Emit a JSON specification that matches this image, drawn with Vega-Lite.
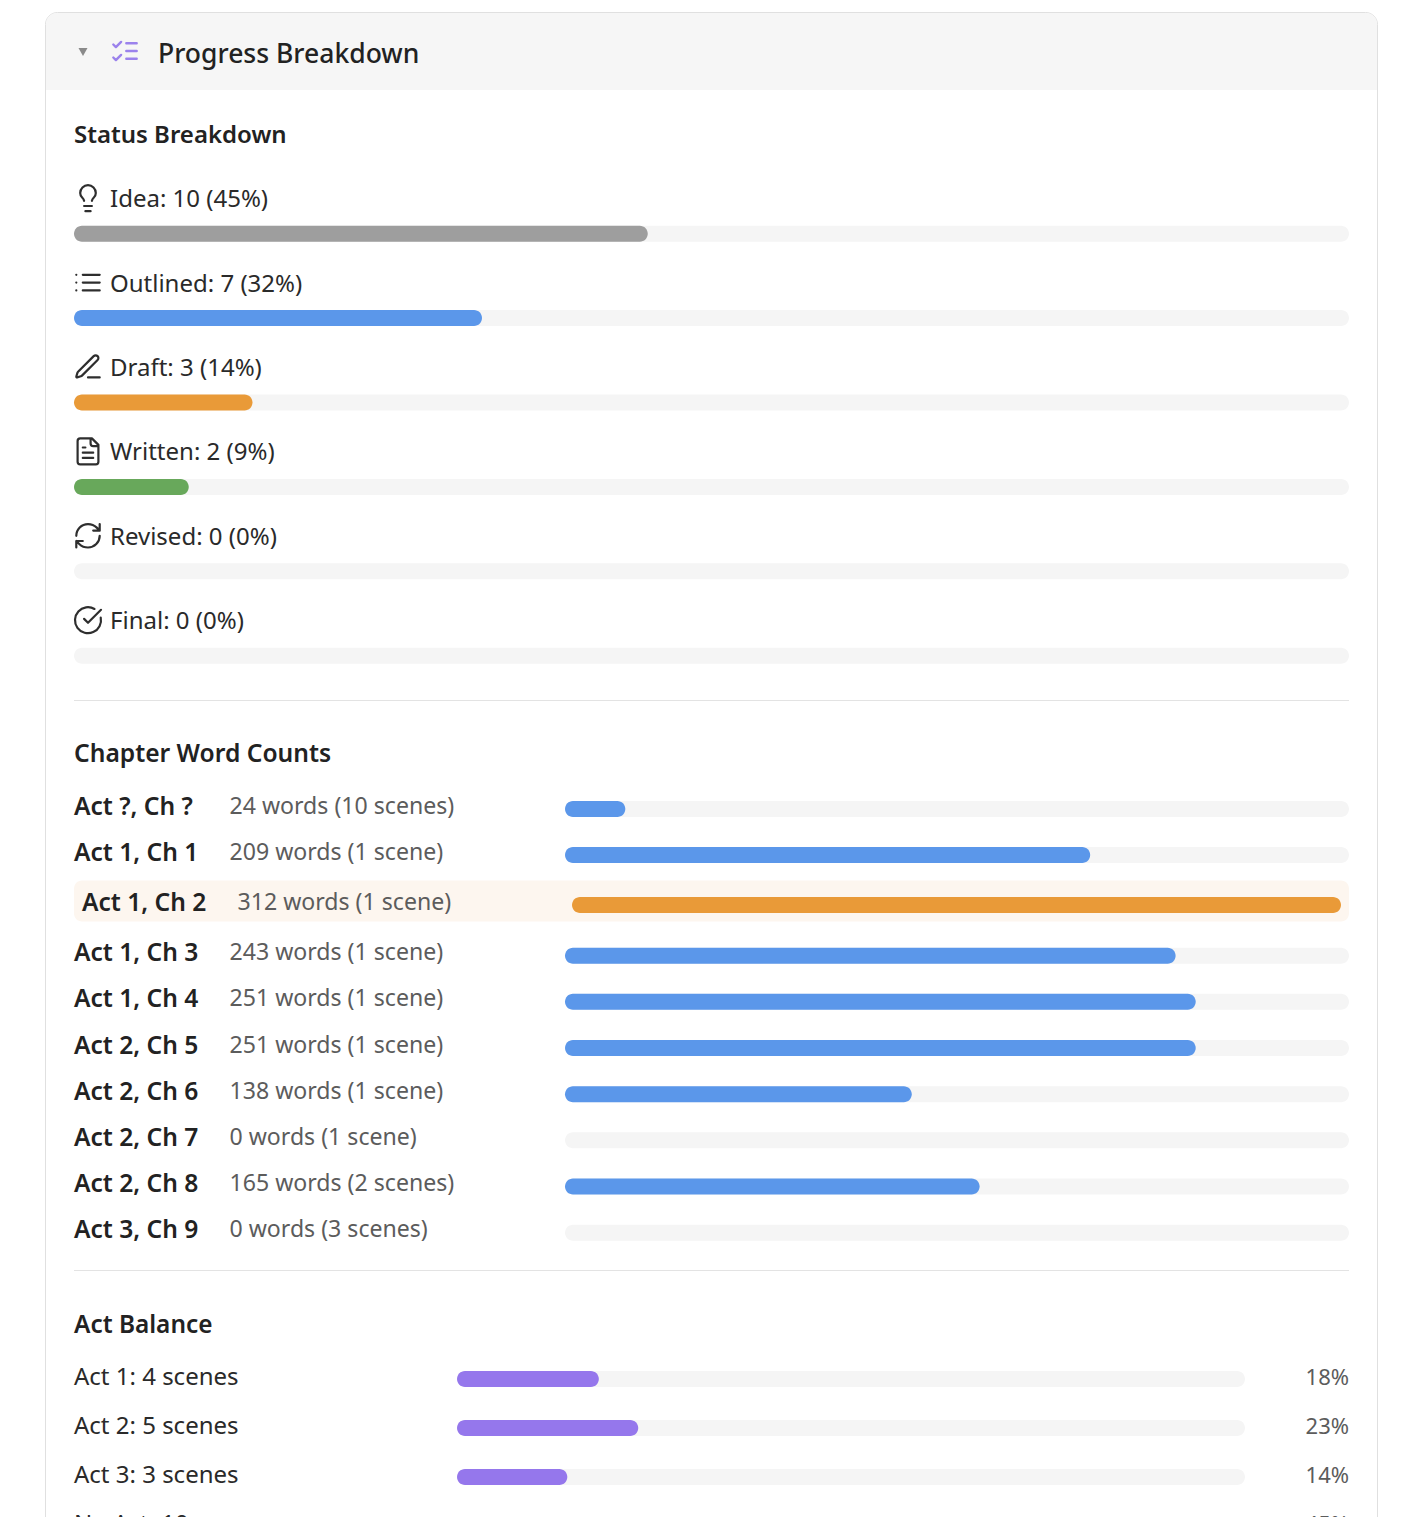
{"$schema":"https://vega.github.io/schema/vega-lite/v6.json","width":1422,"height":1517,"padding":0,"autosize":{"type":"none"},"background":"#ffffff",
"config":{"view":{"stroke":null},"axis":{"disable":true},"legend":{"disable":true},"text":{"font":"Noto Sans","baseline":"middle","align":"left"}},
"datasets":{
"frame":[{"a":0,"b":1,"title":"Progress Breakdown"}],
"status":[
{"status":"Idea","count":10,"pct":45,"start":0,"total":100,"label":"Idea: 10 (45%)"},
{"status":"Outlined","count":7,"pct":32,"start":0,"total":100,"label":"Outlined: 7 (32%)"},
{"status":"Draft","count":3,"pct":14,"start":0,"total":100,"label":"Draft: 3 (14%)"},
{"status":"Written","count":2,"pct":9,"start":0,"total":100,"label":"Written: 2 (9%)"},
{"status":"Revised","count":0,"pct":0,"start":0,"total":100,"label":"Revised: 0 (0%)"},
{"status":"Final","count":0,"pct":0,"start":0,"total":100,"label":"Final: 0 (0%)"}],
"chapters":[
{"chapter":"Act ?, Ch ?","words":24,"start":0,"total":312,"detail":"24 words (10 scenes)"},
{"chapter":"Act 1, Ch 1","words":209,"start":0,"total":312,"detail":"209 words (1 scene)"},
{"chapter":"Act 1, Ch 2","words":312,"start":0,"total":312,"detail":"312 words (1 scene)"},
{"chapter":"Act 1, Ch 3","words":243,"start":0,"total":312,"detail":"243 words (1 scene)"},
{"chapter":"Act 1, Ch 4","words":251,"start":0,"total":312,"detail":"251 words (1 scene)"},
{"chapter":"Act 2, Ch 5","words":251,"start":0,"total":312,"detail":"251 words (1 scene)"},
{"chapter":"Act 2, Ch 6","words":138,"start":0,"total":312,"detail":"138 words (1 scene)"},
{"chapter":"Act 2, Ch 7","words":0,"start":0,"total":312,"detail":"0 words (1 scene)"},
{"chapter":"Act 2, Ch 8","words":165,"start":0,"total":312,"detail":"165 words (2 scenes)"},
{"chapter":"Act 3, Ch 9","words":0,"start":0,"total":312,"detail":"0 words (3 scenes)"}],
"acts":[
{"act":"Act 1: 4 scenes","pct":18,"start":0,"total":100,"share":"18%"},
{"act":"Act 2: 5 scenes","pct":23,"start":0,"total":100,"share":"23%"},
{"act":"Act 3: 3 scenes","pct":14,"start":0,"total":100,"share":"14%"},
{"act":"No Act: 10 scenes","pct":45,"start":0,"total":100,"share":"45%"}]
},
"data":{"name":"frame"},
"resolve":{"scale":{"x":"independent","y":"independent"}},
"layer":[
{"mark":{"type":"rect","fill":"#ffffff","stroke":"#e0e0e0","strokeWidth":1,"cornerRadius":12},
 "encoding":{"x":{"field":"a","type":"quantitative","scale":{"domain":[0,1],"range":[45.5,1377.5]}},"x2":{"field":"b"},"y":{"field":"a","type":"quantitative","scale":{"domain":[0,1],"range":[12.5,1600]}},"y2":{"field":"b"}}},
{"encoding":{"x":{"field":"a","type":"quantitative","scale":{"domain":[0,1],"range":[46,1377]}},"y":{"field":"a","type":"quantitative","scale":{"domain":[0,1],"range":[13,90]}}},
 "layer":[
 {"mark":{"type":"rect","fill":"#f6f6f6","cornerRadiusTopLeft":11,"cornerRadiusTopRight":11},"encoding":{"x2":{"field":"b"},"y2":{"field":"b"}}},
 {"mark":{"type":"point","shape":"triangle-down","filled":true,"fill":"#5c5c5c","stroke":null,"size":81,"xOffset":37,"yOffset":39}},
 {"mark":{"type":"point","shape":"M-9 5l2 2 4-4M-9 -5l2 2 4-4M1 -6h8M1 0h8M1 6h8","filled":false,"stroke":"#9b82ec","strokeWidth":2.4,"strokeCap":"round","strokeJoin":"round","size":6.76,"xOffset":79,"yOffset":38,"opacity":1}},
 {"mark":{"type":"text","fontSize":26.5,"fontWeight":500,"fill":"#222222","xOffset":112,"yOffset":42},"encoding":{"text":{"field":"title"}}}
 ]},
{"data":{"name":"status"},
 "encoding":{"x":{"field":"start","type":"quantitative","scale":{"domain":[0,100],"range":[74,1349]}},
 "y":{"field":"status","type":"ordinal","scale":{"type":"point","padding":0,"domain":["Idea","Outlined","Draft","Written","Revised","Final"],"range":[233.7,655.7]}}},
 "layer":[
 {"mark":{"type":"bar","orient":"horizontal","size":16,"cornerRadius":8,"fill":"#f5f5f5"},"encoding":{"x2":{"field":"total"}}},
 {"mark":{"type":"bar","orient":"horizontal","size":16,"cornerRadius":8},"encoding":{"x2":{"field":"pct"},"color":{"field":"status","type":"nominal","scale":{"domain":["Idea","Outlined","Draft","Written","Revised","Final"],"range":["#9e9e9e","#5b97ea","#e99a38","#68a85b","#9e9e9e","#9e9e9e"]}}}},
 {"mark":{"type":"text","fontSize":24,"fill":"#2a2a2a","xOffset":36,"yOffset":-33.5},"encoding":{"text":{"field":"label"}}},
 {"mark":{"type":"point","filled":false,"stroke":"#2e2e2e","strokeWidth":2.2,"strokeCap":"round","strokeJoin":"round","size":6.76,"opacity":1,"xOffset":14,"yOffset":-35.5},
  "encoding":{"shape":{"field":"status","type":"nominal","scale":{"domain":["Idea","Outlined","Draft","Written","Revised","Final"],"range":[
  "M3 2c.2-1 .7-1.7 1.5-2.5 1-.9 1.5-2.2 1.5-3.5A6 6 0 0 0 -6 -4c0 1 .2 2.2 1.5 3.5.7.7 1.3 1.5 1.5 2.5M-3 6h6M-2 10h4",
  "M-9 0h.01M-9 6h.01M-9 -6h.01M-4 0h13M-4 6h13M-4 -6h13",
  "M0 8h9M4.376 -8.378a1 1 0 0 1 3.002 3.002L-4.632 6.635a2 2 0 0 1-.855.506l-2.872.838a.5.5 0 0 1-.62-.62l.838-2.872a2 2 0 0 1 .506-.854z",
  "M3 -10H-6a2 2 0 0 0-2 2v16a2 2 0 0 0 2 2h12a2 2 0 0 0 2-2V-5ZM2 -10v4a2 2 0 0 0 2 2h4M-2 -3H-4M4 1H-4M4 5H-4",
  "M-9 0a9 9 0 0 1 9-9 9.75 9.75 0 0 1 6.74 2.74L9 -4M9 -9v5h-5M9 0a9 9 0 0 1-9 9 9.75 9.75 0 0 1-6.74-2.74L-9 4M-4 4H-9v5",
  "M9.801 -2A10 10 0 1 1 5 -8.665M-3 -1l3 3L10 -8"]}}}},
 {"transform":[{"filter":"datum.status === 'Idea'"}],"mark":{"type":"text","text":"Status Breakdown","fontSize":24,"fontWeight":600,"fill":"#222222","yOffset":-97.5}},
 {"transform":[{"filter":"datum.status === 'Final'"}],"mark":{"type":"rule","stroke":"#e3e3e3","strokeWidth":1,"yOffset":44.8},"encoding":{"x2":{"field":"total"}}}
 ]},
{"data":{"name":"chapters"},"transform":[{"filter":{"field":"chapter","oneOf":["Act ?, Ch ?","Act 1, Ch 1"]}}],
 "encoding":{"x":{"field":"start","type":"quantitative","scale":{"domain":[0,312],"range":[565,1349]}},
 "y":{"field":"chapter","type":"ordinal","scale":{"type":"point","padding":0,"domain":["Act ?, Ch ?","Act 1, Ch 1"],"range":[809,855]}}},
 "layer":[
 {"mark":{"type":"bar","orient":"horizontal","size":16,"cornerRadius":8,"fill":"#f5f5f5"},"encoding":{"x2":{"field":"total"}}},
 {"mark":{"type":"bar","orient":"horizontal","size":16,"cornerRadius":8,"fill":"#5b97ea"},"encoding":{"x2":{"field":"words"}}},
 {"mark":{"type":"text","fontSize":24.6,"fontWeight":600,"fill":"#222222","xOffset":-491,"yOffset":-1.5},"encoding":{"text":{"field":"chapter"}}},
 {"mark":{"type":"text","fontSize":23.1,"fill":"#5c5c5c","xOffset":-335.5,"yOffset":-2.5},"encoding":{"text":{"field":"detail"}}},
 {"transform":[{"filter":"datum.chapter === 'Act ?, Ch ?'"}],"mark":{"type":"text","text":"Chapter Word Counts","fontSize":24.6,"fontWeight":600,"fill":"#222222","xOffset":-491,"yOffset":-54.5}}
 ]},
{"data":{"name":"chapters"},"transform":[{"filter":{"field":"chapter","oneOf":["Act 1, Ch 2"]}}],
 "encoding":{"x":{"field":"start","type":"quantitative","scale":{"domain":[0,312],"range":[572,1341]}},
 "y":{"field":"chapter","type":"ordinal","scale":{"type":"point","padding":0,"domain":["Act 1, Ch 2"],"range":[905,905]}}},
 "layer":[
 {"mark":{"type":"bar","orient":"horizontal","size":41,"cornerRadius":8,"fill":"#fdf6ef","xOffset":-498,"x2Offset":8,"yOffset":-4},"encoding":{"x2":{"field":"total"}}},
 {"mark":{"type":"bar","orient":"horizontal","size":16,"cornerRadius":8,"fill":"#e99a38"},"encoding":{"x2":{"field":"words"}}},
 {"mark":{"type":"text","fontSize":24.6,"fontWeight":600,"fill":"#222222","xOffset":-490,"yOffset":-1.5},"encoding":{"text":{"field":"chapter"}}},
 {"mark":{"type":"text","fontSize":23.1,"fill":"#5c5c5c","xOffset":-334.5,"yOffset":-2.5},"encoding":{"text":{"field":"detail"}}}
 ]},
{"data":{"name":"chapters"},"transform":[{"filter":{"field":"chapter","oneOf":["Act 1, Ch 3","Act 1, Ch 4","Act 2, Ch 5","Act 2, Ch 6","Act 2, Ch 7","Act 2, Ch 8","Act 3, Ch 9"]}}],
 "encoding":{"x":{"field":"start","type":"quantitative","scale":{"domain":[0,312],"range":[565,1349]}},
 "y":{"field":"chapter","type":"ordinal","scale":{"type":"point","padding":0,"domain":["Act 1, Ch 3","Act 1, Ch 4","Act 2, Ch 5","Act 2, Ch 6","Act 2, Ch 7","Act 2, Ch 8","Act 3, Ch 9"],"range":[955.7,1232.7]}}},
 "layer":[
 {"mark":{"type":"bar","orient":"horizontal","size":16,"cornerRadius":8,"fill":"#f5f5f5"},"encoding":{"x2":{"field":"total"}}},
 {"mark":{"type":"bar","orient":"horizontal","size":16,"cornerRadius":8,"fill":"#5b97ea"},"encoding":{"x2":{"field":"words"}}},
 {"mark":{"type":"text","fontSize":24.6,"fontWeight":600,"fill":"#222222","xOffset":-491,"yOffset":-1.5},"encoding":{"text":{"field":"chapter"}}},
 {"mark":{"type":"text","fontSize":23.1,"fill":"#5c5c5c","xOffset":-335.5,"yOffset":-2.5},"encoding":{"text":{"field":"detail"}}},
 {"transform":[{"filter":"datum.chapter === 'Act 3, Ch 9'"}],"mark":{"type":"rule","stroke":"#e3e3e3","strokeWidth":1,"xOffset":-491,"yOffset":37.8},"encoding":{"x2":{"field":"total"}}}
 ]},
{"data":{"name":"acts"},
 "encoding":{"x":{"field":"start","type":"quantitative","scale":{"domain":[0,100],"range":[457,1245]}},
 "y":{"field":"act","type":"ordinal","scale":{"type":"point","padding":0,"domain":["Act 1: 4 scenes","Act 2: 5 scenes","Act 3: 3 scenes","No Act: 10 scenes"],"range":[1379,1526]}}},
 "layer":[
 {"mark":{"type":"bar","orient":"horizontal","size":16,"cornerRadius":8,"fill":"#f5f5f5"},"encoding":{"x2":{"field":"total"}}},
 {"mark":{"type":"bar","orient":"horizontal","size":16,"cornerRadius":8,"fill":"#9577ec"},"encoding":{"x2":{"field":"pct"}}},
 {"mark":{"type":"text","fontSize":24,"fill":"#2a2a2a","xOffset":-383,"yOffset":-1.5},"encoding":{"text":{"field":"act"}}},
 {"mark":{"type":"text","fontSize":22,"align":"right","fill":"#5c5c5c","xOffset":892,"yOffset":-1.5},"encoding":{"text":{"field":"share"}}},
 {"transform":[{"filter":"datum.act === 'Act 1: 4 scenes'"}],"mark":{"type":"text","text":"Act Balance","fontSize":24.4,"fontWeight":600,"fill":"#222222","xOffset":-383,"yOffset":-53.5}}
 ]}
]}
